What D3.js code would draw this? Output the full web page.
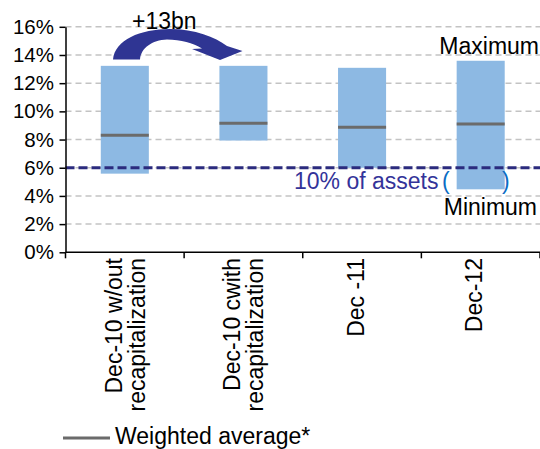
<!DOCTYPE html>
<html>
<head>
<meta charset="utf-8">
<script src="https://cdn.jsdelivr.net/npm/d3@7"></script>
<style>
  html, body { margin: 0; padding: 0; background: #fff; }
  svg { display: block; font-family: "Liberation Sans", Arial, sans-serif; }
</style>
</head>
<body>
<svg id="chart" width="540" height="449"></svg>
<script>
// Capital ratio ranges (%) per period
const categories = [
  ["Dec-10 w/out", "recapitalization"],
  ["Dec-10 cwith", "recapitalization"],
  ["Dec -11"],
  ["Dec-12"]
];
const minValues = [5.58, 7.93, 6.0, 4.47];
const maxValues = [13.23, 13.23, 13.09, 13.59];
const weightedAvg = [8.31, 9.16, 8.88, 9.11];
const yTicks = [0, 2, 4, 6, 8, 10, 12, 14, 16];
const thresholdValue = 6;

const svg = d3.select("#chart");
const plotLeft = 65.5, plotRight = 540, plotTop = 26.8, plotBottom = 252.3;

const x = d3.scaleBand().domain(d3.range(categories.length)).range([plotLeft, plotRight]).padding(0);
const y = d3.scaleLinear().domain([0, 16]).range([plotBottom, plotTop]);
const barW = x.bandwidth() * 0.405;

// Gridlines
svg.append("g").selectAll("line")
  .data(yTicks.filter(t => t > 0))
  .join("line")
  .attr("x1", plotLeft).attr("x2", plotRight)
  .attr("y1", d => y(d)).attr("y2", d => y(d))
  .attr("stroke", "#c3c3c3").attr("stroke-width", 1.5)
  .attr("stroke-dasharray", "6,4");

// Range bars
const bars = svg.append("g");
bars.selectAll("rect")
  .data(categories.map((c, i) => i))
  .join("rect")
  .attr("x", i => x(i) + (x.bandwidth() - barW) / 2)
  .attr("width", barW)
  .attr("y", i => y(maxValues[i]))
  .attr("height", i => y(minValues[i]) - y(maxValues[i]))
  .attr("fill", "#8db9e3");

// Weighted average markers
bars.selectAll("line.avg")
  .data(categories.map((c, i) => i))
  .join("line")
  .attr("class", "avg")
  .attr("x1", i => x(i) + (x.bandwidth() - barW) / 2)
  .attr("x2", i => x(i) + (x.bandwidth() + barW) / 2)
  .attr("y1", i => y(weightedAvg[i])).attr("y2", i => y(weightedAvg[i]))
  .attr("stroke", "#6b6b6b").attr("stroke-width", 3);

// Threshold line (10% of assets)
svg.append("line")
  .attr("x1", plotLeft).attr("x2", plotRight)
  .attr("y1", y(thresholdValue)).attr("y2", y(thresholdValue))
  .attr("stroke", "#2b2b7e").attr("stroke-width", 3)
  .attr("stroke-dasharray", "9,4");

// Y axis
const yAxis = svg.append("g")
  .attr("transform", `translate(${plotLeft},0)`)
  .call(d3.axisLeft(y).tickValues(yTicks).tickFormat(d => d + "%").tickSize(6).tickSizeOuter(0));
yAxis.select(".domain").attr("stroke", "#000").attr("stroke-width", 1.5);
yAxis.selectAll(".tick line").attr("stroke", "#000").attr("stroke-width", 1.5);
yAxis.selectAll(".tick text")
  .attr("x", -11.5)
  .attr("font-size", "20.5px").attr("fill", "#000")
  .attr("font-family", "'Liberation Sans', Arial, sans-serif");

// X axis
svg.append("line")
  .attr("x1", plotLeft).attr("x2", plotRight)
  .attr("y1", plotBottom).attr("y2", plotBottom)
  .attr("stroke", "#000").attr("stroke-width", 1.5);
svg.append("g").selectAll("line")
  .data(d3.range(categories.length + 1))
  .join("line")
  .attr("x1", i => plotLeft + i * x.bandwidth()).attr("x2", i => plotLeft + i * x.bandwidth())
  .attr("y1", plotBottom).attr("y2", plotBottom + 6)
  .attr("stroke", "#000").attr("stroke-width", 1.5);

// Category labels, rotated
categories.forEach((lines, i) => {
  const cx = x(i) + x.bandwidth() / 2;
  lines.forEach((txt, j) => {
    const bx = lines.length === 2 ? cx - 3 + j * 23 : cx + 1.5;
    svg.append("text")
      .attr("transform", `translate(${bx},258) rotate(-90)`)
      .attr("text-anchor", "end")
      .attr("font-size", "23px")
      .attr("fill", "#000")
      .text(txt);
  });
});

// Annotations
svg.append("text").attr("x", 539).attr("y", 54).attr("text-anchor", "end")
  .attr("font-size", "23px").attr("fill", "#000").text("Maximum");
svg.append("text").attr("x", 537).attr("y", 215).attr("text-anchor", "end")
  .attr("font-size", "23px").attr("fill", "#000").text("Minimum");
svg.append("text").attr("x", 294).attr("y", 188.5)
  .attr("font-size", "23px").attr("fill", "#333399").text("10% of assets");
svg.append("text").attr("x", 442).attr("y", 188.5)
  .attr("font-size", "23px").attr("fill", "#0a6cc4").text("(");
svg.append("text").attr("x", 502).attr("y", 188.5)
  .attr("font-size", "23px").attr("fill", "#0a6cc4").text(")");
svg.append("text").attr("x", 132).attr("y", 28.5)
  .attr("font-size", "23px").attr("fill", "#000").text("+13bn");

// Curved arrow between the two Dec-10 bars
svg.append("path")
  .attr("d", "M113,59.5 C115,40 140,29 170,29 C195,29 215,37 227,46 L242.5,51 L220,60 L192,49 L202,48.5 C193,43 181,39.5 167,39.5 C152,40 141,48 140,59.5 Z")
  .attr("fill", "#2f3593");

// Legend
svg.append("line").attr("x1", 63).attr("x2", 110).attr("y1", 438).attr("y2", 438)
  .attr("stroke", "#6b6b6b").attr("stroke-width", 3);
svg.append("text").attr("x", 115).attr("y", 443.5)
  .attr("font-size", "23px").attr("fill", "#000").text("Weighted average*");
</script>
</body>
</html>
